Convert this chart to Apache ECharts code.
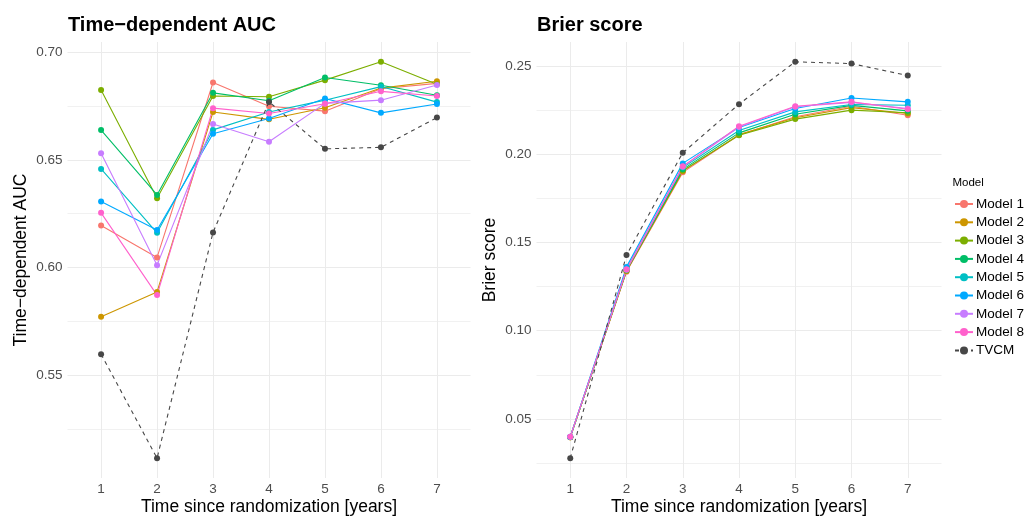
<!DOCTYPE html>
<html>
<head>
<meta charset="utf-8">
<script src="https://cdn.jsdelivr.net/npm/echarts@6/dist/echarts.min.js"></script>
<style>
  html, body { margin: 0; padding: 0; background: #fff; }
  #chart { width: 1029px; height: 516px; }
</style>
</head>
<body>
<div id="chart"></div>
<script>
const years = [1, 2, 3, 4, 5, 6, 7]
const modelNames = ['Model 1', 'Model 2', 'Model 3', 'Model 4', 'Model 5', 'Model 6', 'Model 7', 'Model 8', 'TVCM']
const colors = ['#F8766D', '#CD9600', '#7CAE00', '#00BE67', '#00BFC4', '#00A9FF', '#C77CFF', '#FF61CC', '#474747']

// time-dependent AUC, one array per model
const auc1 = [0.6195, 0.6047, 0.6859, 0.6749, 0.6726, 0.6830, 0.6855]
const auc2 = [0.5771, 0.5887, 0.6722, 0.6688, 0.6742, 0.6833, 0.6865]
const auc3 = [0.6824, 0.6322, 0.6796, 0.6793, 0.6870, 0.6955, 0.6851]
const auc4 = [0.6638, 0.6337, 0.6811, 0.6774, 0.6882, 0.6846, 0.6800]
const auc5 = [0.6458, 0.6161, 0.6639, 0.6722, 0.6777, 0.6840, 0.6768]
const auc6 = [0.6307, 0.6174, 0.6621, 0.6692, 0.6785, 0.6718, 0.6759]
const auc7 = [0.6530, 0.6011, 0.6666, 0.6584, 0.6762, 0.6777, 0.6847]
const auc8 = [0.6254, 0.5872, 0.6740, 0.6715, 0.6760, 0.6818, 0.6796]
const aucTVCM = [0.5598, 0.5115, 0.6163, 0.6769, 0.6551, 0.6558, 0.6696]

// Brier score
const brier1 = [0.0396, 0.1335, 0.1898, 0.2110, 0.2213, 0.2273, 0.2222]
const brier2 = [0.0396, 0.1338, 0.1905, 0.2112, 0.2208, 0.2265, 0.2232]
const brier3 = [0.0396, 0.1340, 0.1908, 0.2108, 0.2200, 0.2251, 0.2236]
const brier4 = [0.0397, 0.1345, 0.1915, 0.2122, 0.2228, 0.2278, 0.2247]
const brier5 = [0.0397, 0.1350, 0.1925, 0.2135, 0.2241, 0.2283, 0.2279]
const brier6 = [0.0398, 0.1362, 0.1949, 0.2153, 0.2260, 0.2320, 0.2298]
const brier7 = [0.0398, 0.1345, 0.1930, 0.2155, 0.2270, 0.2295, 0.2260]
const brier8 = [0.0398, 0.1348, 0.1932, 0.2160, 0.2273, 0.2298, 0.2256]
const brierTVCM = [0.0277, 0.1429, 0.2009, 0.2285, 0.2525, 0.2515, 0.2447]

const aucTicks = [0.55, 0.60, 0.65, 0.70]
const aucMinor = [0.525, 0.575, 0.625, 0.675]
const brierTicks = [0.05, 0.10, 0.15, 0.20, 0.25]
const brierMinor = [0.025, 0.075, 0.125, 0.175, 0.225]

const aucData = [auc1, auc2, auc3, auc4, auc5, auc6, auc7, auc8, aucTVCM]
const brierData = [brier1, brier2, brier3, brier4, brier5, brier6, brier7, brier8, brierTVCM]

const FONT = 'Liberation Sans, Arial, sans-serif'

// ggplot-like 5% expansion of the data range
function range(sets) {
  const all = [].concat(...sets)
  const lo = Math.min(...all), hi = Math.max(...all)
  const pad = (hi - lo) * 0.05
  return [lo - pad, hi + pad]
}
const aucRange = range(aucData)
const brierRange = range(brierData)

function xAxis(gi) {
  return {
    type: 'value', gridIndex: gi, min: 0.4, max: 7.6,
    name: 'Time since randomization [years]', nameLocation: 'middle', nameGap: 20, nameMoveOverlap: false,
    nameTextStyle: { fontFamily: FONT, fontSize: 17.5, color: '#000', verticalAlign: 'top' },
    axisLine: { show: false },
    axisTick: { show: false, customValues: years },
    axisLabel: { customValues: years, color: '#4d4d4d', fontFamily: FONT, fontSize: 13.5, margin: 4, formatter: v => String(v) },
    splitLine: { show: true, lineStyle: { color: '#ebebeb', width: 1 } }
  }
}
function yAxisMajor(gi, r, ticks, name) {
  return {
    type: 'value', gridIndex: gi, min: r[0], max: r[1], position: 'left',
    name, nameLocation: 'middle', nameGap: 37,
    nameTextStyle: { fontFamily: FONT, fontSize: 17.5, color: '#000' },
    axisLine: { show: false },
    axisTick: { show: false, customValues: ticks },
    axisLabel: { customValues: ticks, color: '#4d4d4d', fontFamily: FONT, fontSize: 13.5, margin: 5, formatter: v => v.toFixed(2) },
    splitLine: { show: true, lineStyle: { color: '#ebebeb', width: 1 } }
  }
}
function yAxisMinor(gi, r, ticks) {
  return {
    type: 'value', gridIndex: gi, min: r[0], max: r[1], position: 'left',
    axisLine: { show: false },
    axisTick: { show: false, customValues: ticks },
    axisLabel: { show: false, customValues: ticks },
    splitLine: { show: true, lineStyle: { color: '#ebebeb', width: 0.7 } }
  }
}

const series = []
function addPanel(dataSets, xi, yi) {
  dataSets.forEach((vals, i) => {
    const tv = i === 8
    series.push({
      name: modelNames[i], type: 'line', xAxisIndex: xi, yAxisIndex: yi,
      data: years.map((y, k) => [y, vals[k]]),
      symbol: 'circle', symbolSize: 6, z: tv ? 4 : 3,
      lineStyle: { color: colors[i], width: 1.1, type: tv ? [4, 4] : 'solid' },
      itemStyle: { color: colors[i] },
      emphasis: { disabled: true }, animation: false
    })
  })
}
addPanel(aucData, 0, 1)
addPanel(brierData, 1, 3)

const c = echarts.init(document.getElementById('chart'))
c.setOption({
  backgroundColor: '#fff',
  animation: false,
  title: [
    { text: 'Time\u2212dependent AUC', left: 63, top: 10, textStyle: { fontFamily: FONT, fontSize: 20, fontWeight: 'bold', color: '#000' } },
    { text: 'Brier score', left: 532, top: 10, textStyle: { fontFamily: FONT, fontSize: 20, fontWeight: 'bold', color: '#000' } },
    { text: 'Model', left: 947.5, top: 172, textStyle: { fontFamily: FONT, fontSize: 11.5, fontWeight: 'normal', color: '#000' } }
  ],
  legend: {
    orient: 'vertical', left: 949, top: 192, itemWidth: 18, itemHeight: 10, itemGap: 4.3,
    data: modelNames,
    textStyle: { fontFamily: FONT, fontSize: 13.5, color: '#000', padding: [0, 0, 0, -2] }
  },
  grid: [
    { left: 67.5, top: 42, width: 403, height: 436, outerBoundsMode: 'none' },
    { left: 536.5, top: 42, width: 405, height: 436, outerBoundsMode: 'none' }
  ],
  xAxis: [xAxis(0), xAxis(1)],
  yAxis: [
    yAxisMinor(0, aucRange, aucMinor),
    yAxisMajor(0, aucRange, aucTicks, 'Time\u2212dependent AUC'),
    yAxisMinor(1, brierRange, brierMinor),
    yAxisMajor(1, brierRange, brierTicks, 'Brier score')
  ],
  series
})
window.addEventListener('resize', () => c.resize())
</script>
</body>
</html>
